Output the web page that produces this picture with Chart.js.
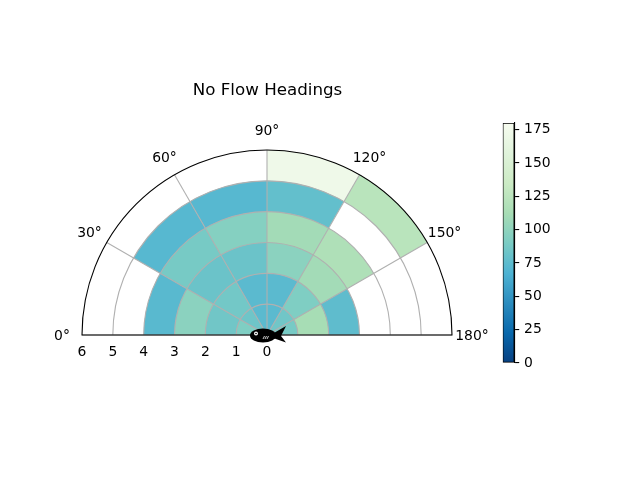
<!DOCTYPE html>
<html>
<head>
<meta charset="utf-8">
<script src="https://cdn.jsdelivr.net/npm/chart.js@4.4.1/dist/chart.umd.min.js"></script>
<style>
html,body{margin:0;padding:0;background:#fff;overflow:hidden}
#wrap{position:relative;width:640px;height:480px}
canvas{position:absolute;left:0;top:0}
</style>
</head>
<body>
<div id="wrap">
<canvas id="polar" width="640" height="480"></canvas>
<canvas id="cbar" width="640" height="480"></canvas>
</div>
<script>
// ---------------- data ----------------
const sectorLabels = ['0-30', '30-60', '60-90', '90-120', '120-150', '150-180'];
const thetaTicks = [0, 30, 60, 90, 120, 150, 180];
const radialEdges = [0, 1, 2, 3, 4, 5, 6];
const radialTicks = [0, 1, 2, 3, 4, 5, 6];
// cell values, one array per radial ring (one entry per sector); null = empty cell
const ring1 = [92, 84, 74, 74, 85, 88];
const ring2 = [85, 86, 74, 74, 92, 112];
const ring3 = [98, 82, 82, 98, 110, 76];
const ring4 = [73, 88, 95, 110, 117, null];
const ring5 = [null, 72, 72, 78, null, null];
const ring6 = [null, null, null, 172, 123, null];
const colorbarTicks = [0, 25, 50, 75, 100, 125, 150, 175];
const vmin = 0, vmax = 180;

// ---------------- style / layout ----------------
const FONT = 'DejaVu Sans';
Chart.defaults.font.family = FONT;
const POLE = { x: 267, y: 335 };
const RADIUS_PX = 185;
const SECTOR_DEG = thetaTicks[1] - thetaTicks[0];

// GnBu reversed
const GnBu = ['#f7fcf0','#e0f3db','#ccebc5','#a8ddb5','#7bccc4','#4eb3d3','#2b8cbe','#0868ac','#084081'];
const cmapStops = GnBu.slice().reverse();
function hexToRgb(h) { return [parseInt(h.slice(1,3),16), parseInt(h.slice(3,5),16), parseInt(h.slice(5,7),16)]; }
function cmap(v) {
  let t = (v - vmin) / (vmax - vmin);
  t = Math.max(0, Math.min(1, t));
  const pos = t * (cmapStops.length - 1);
  const i = Math.min(Math.floor(pos), cmapStops.length - 2);
  const f = pos - i;
  const a = hexToRgb(cmapStops[i]), b = hexToRgb(cmapStops[i + 1]);
  const c = a.map((x, k) => Math.round(x + (b[k] - x) * f));
  return `rgb(${c[0]},${c[1]},${c[2]})`;
}

const rings = [ring1, ring2, ring3, ring4, ring5, ring6];
// inner rings are dataset 0 (drawn last / on top); each arc spans 0..outer edge
const datasets = rings.map((ring, k) => ({
  data: ring.map((v, s) => rings.slice(k).some(r => r[s] != null) ? radialEdges[k + 1] : 0),
  backgroundColor: ring.map(v => v == null ? '#ffffff' : cmap(v)),
  borderWidth: 0,
  angle: SECTOR_DEG
}));

function drawFish(ctx, cx, cy) {
  ctx.save();
  ctx.fillStyle = '#000';
  ctx.beginPath();
  ctx.ellipse(cx - 4, cy + 0.5, 13, 7, 0, 0, Math.PI * 2);
  ctx.fill();
  ctx.beginPath();
  ctx.moveTo(cx + 6, cy - 1.5);
  ctx.lineTo(cx + 19, cy - 9);
  ctx.lineTo(cx + 14, cy + 1);
  ctx.lineTo(cx + 19, cy + 7.5);
  ctx.lineTo(cx + 6, cy + 3);
  ctx.closePath();
  ctx.fill();
  ctx.fillStyle = '#fff';
  ctx.beginPath(); ctx.arc(cx - 11, cy - 1.5, 2, 0, Math.PI * 2); ctx.fill();
  ctx.fillStyle = '#000';
  ctx.beginPath(); ctx.arc(cx - 11, cy - 1.5, 0.8, 0, Math.PI * 2); ctx.fill();
  ctx.strokeStyle = '#fff'; ctx.lineWidth = 0.8;
  for (let i = 0; i < 3; i++) {
    ctx.beginPath();
    ctx.moveTo(cx - 4 + i * 2, cy + 4);
    ctx.lineTo(cx - 2.5 + i * 2, cy + 1);
    ctx.stroke();
  }
  ctx.restore();
}

const polarDecor = {
  id: 'polarDecor',
  afterDatasetsDraw(chart) {
    const s = chart.scales.r;
    const ctx = chart.ctx;
    const cx = s.xCenter, cy = s.yCenter;
    const rad = v => s.getDistanceFromCenterForValue(v);
    const ang = d => Math.PI + d * Math.PI / 180;
    const R = rad(s.max);
    ctx.save();
    ctx.strokeStyle = '#b0b0b0';
    ctx.lineWidth = 1.1;
    radialTicks.forEach(v => {
      if (v <= s.min || v >= s.max) return;
      ctx.beginPath();
      ctx.arc(cx, cy, rad(v), Math.PI, Math.PI * 2);
      ctx.stroke();
    });
    thetaTicks.forEach(d => {
      ctx.beginPath();
      ctx.moveTo(cx, cy);
      ctx.lineTo(cx + R * Math.cos(ang(d)), cy + R * Math.sin(ang(d)));
      ctx.stroke();
    });
    ctx.strokeStyle = '#000';
    ctx.beginPath();
    ctx.arc(cx, cy, R, Math.PI, Math.PI * 2);
    ctx.closePath();
    ctx.stroke();
    ctx.fillStyle = '#000';
    ctx.font = `13.9px "${FONT}"`;
    ctx.textAlign = 'center';
    ctx.textBaseline = 'middle';
    thetaTicks.forEach(d => {
      ctx.fillText(d + '°', cx + (R + 20) * Math.cos(ang(d)), cy + 1 + (R + 20) * Math.sin(ang(d)));
    });
    radialTicks.forEach(v => ctx.fillText(String(v), cx - rad(v), cy + 17));
    drawFish(ctx, cx, cy);
    ctx.restore();
  }
};

new Chart(document.getElementById('polar'), {
  type: 'polarArea',
  data: { labels: sectorLabels, datasets },
  options: {
    responsive: false,
    animation: false,
    events: [],
    layout: { padding: { right: 105 } },
    plugins: {
      legend: { display: false },
      tooltip: { enabled: false },
      title: {
        display: true,
        text: 'No Flow Headings',
        color: '#000',
        font: { family: FONT, size: 16.7, weight: 'normal' },
        padding: { top: 81, bottom: 0 }
      }
    },
    scales: {
      r: {
        min: radialEdges[0],
        max: radialEdges[radialEdges.length - 1],
        startAngle: 270,
        grid: { display: false },
        angleLines: { display: false },
        ticks: { display: false },
        pointLabels: { display: false },
        afterFit: s => { s.xCenter = POLE.x; s.yCenter = POLE.y; s.drawingArea = RADIUS_PX; }
      }
    }
  },
  plugins: [polarDecor]
});

function cbGradient(chart) {
  const area = chart.chartArea;
  if (!area) return '#7bccc4';
  const y = chart.scales.y;
  const g = chart.ctx.createLinearGradient(0, y.getPixelForValue(vmin), 0, y.getPixelForValue(vmax));
  cmapStops.forEach((c, i) => g.addColorStop(i / (cmapStops.length - 1), c));
  return g;
}

new Chart(document.getElementById('cbar'), {
  type: 'bar',
  data: {
    labels: [''],
    datasets: [{
      data: [[vmin, vmax]],
      backgroundColor: ctx => cbGradient(ctx.chart),
      borderColor: '#000',
      borderWidth: 1.1,
      borderSkipped: false,
      barPercentage: 1,
      categoryPercentage: 1
    }]
  },
  options: {
    responsive: false,
    animation: false,
    events: [],
    layout: { padding: { left: 502.7, top: 123, bottom: 117, right: 65.7 } },
    plugins: { legend: { display: false }, tooltip: { enabled: false } },
    scales: {
      x: { display: false },
      y: {
        position: 'right',
        min: vmin,
        max: vmax,
        afterBuildTicks: a => { a.ticks = colorbarTicks.map(v => ({ value: v })); },
        afterFit: a => { a.width = 60; },
        ticks: { color: '#000', font: { family: FONT, size: 13.9 }, padding: 4.9 },
        grid: { drawOnChartArea: false, color: '#000', tickLength: 4.9, lineWidth: 1.1 },
        border: { display: true, color: '#000', width: 1.1 }
      }
    }
  }
});
</script>
</body>
</html>
